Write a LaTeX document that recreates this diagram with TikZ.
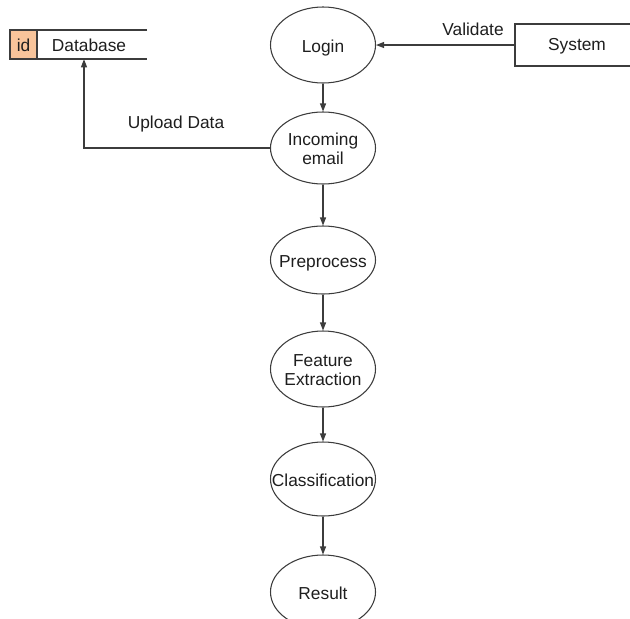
\documentclass[tikz,border=0pt]{standalone}
\usepackage{fontspec}
\setmainfont{Liberation Sans}
\usetikzlibrary{shapes.geometric,arrows.meta}
\definecolor{ln}{RGB}{60,60,60}
\definecolor{tx}{RGB}{30,30,30}
\definecolor{idfill}{RGB}{248,196,155}
\newcommand\zb[1]{\makebox[0pt]{\smash{\raisebox{-5.5pt}{\begin{tabular}{@{}c@{}}#1\end{tabular}}}}}
\begin{document}
\begin{tikzpicture}[x=0.75pt,y=-0.75pt,
  font=\fontsize{13}{14.5}\selectfont, text=tx,
  proc/.style={draw=ln, line width=0.8pt, ellipse, inner sep=0pt,
    minimum width=105*0.75pt, minimum height=#1*0.75pt},
  lbl/.style={inner sep=0pt},
  arr/.style={draw=ln, line width=0.8pt, -{Triangle[length=6pt,width=4.5pt]}}]
\useasboundingbox (0,0) rectangle (630,618);
\clip (0,0) rectangle (630,618);
% data store
\node[lbl, minimum width=137*0.75pt, minimum height=29*0.75pt] (db) at (78.5,44.5) {};
\fill[idfill] (10,30) rectangle (37,59);
\draw[ln, line width=0.8pt] (147,30) -- (10,30) -- (10,59) -- (147,59);
\draw[ln, line width=0.8pt] (37,30) -- (37,59);
\node[lbl] (idt) at (23.5,45.5) {id};
\node[lbl] (dbt) at (89,45.5) {Database};
% system
\node[draw=ln, line width=0.8pt, rectangle, minimum width=130*0.75pt, minimum height=42*0.75pt, inner sep=0pt] (sys) at (580,45) {};
\node[lbl] (syst) at (577,46) {System};
% processes
\node[proc=76] (login) at (323,45) {\zb{Login}};
\node[proc=72] (inc) at (323,148) {\zb{Incoming\\email}};
\node[proc=68] (pre) at (323,260) {\zb{Preprocess}};
\node[proc=76] (fea) at (323,369) {\zb{Feature\\Extraction}};
\node[proc=74] (cla) at (323,479) {\zb{Classification}};
\node[proc=74] (res) at (323,592) {\zb{Result}};
% connectors
\draw[arr] (sys.west) -- (login.east);
\node[lbl] (val) at (473,29) {Validate};
\draw[arr] (login) -- (inc);
\draw[arr] (inc) -- (pre);
\draw[arr] (pre) -- (fea);
\draw[arr] (fea) -- (cla);
\draw[arr] (cla) -- (res);
\coordinate (dbin) at ([xshift=5.5*0.75pt]db.south);
\draw[arr] (inc.west) -| (dbin);
\node[lbl] (up) at (176,124) {Upload Data};
\end{tikzpicture}
\end{document}
